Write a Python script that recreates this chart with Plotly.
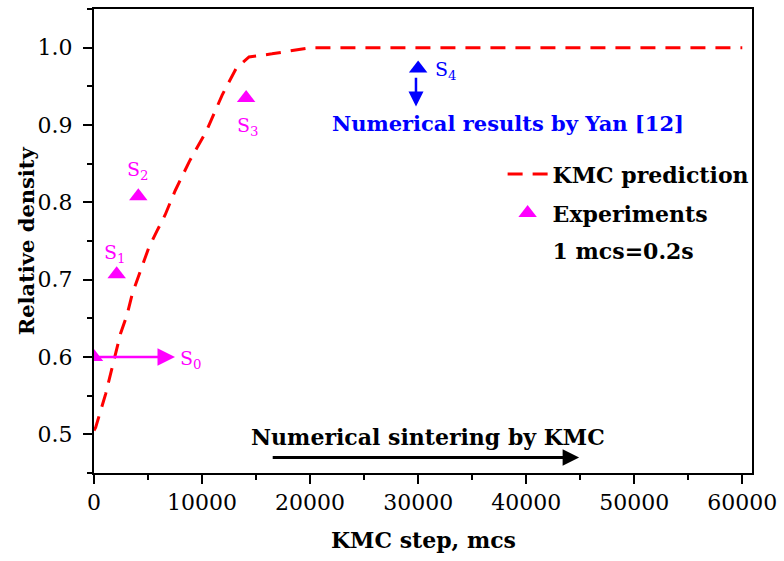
import plotly.graph_objects as go

# KMC prediction curve
kmc_x = [0, 155, 1075, 1840, 2450, 3070, 3530, 4290, 5060, 5830, 6590, 7510, 8830, 10400, 11870, 13150, 14350, 16470, 18680, 20000, 30000, 40000, 50000, 60000]
kmc_y = [0.505, 0.509, 0.552, 0.595, 0.630, 0.655, 0.681, 0.711, 0.741, 0.763, 0.784, 0.815, 0.853, 0.892, 0.939, 0.973, 0.988, 0.992, 0.997, 1.0, 1.0, 1.0, 1.0, 1.0]

# Experiments S0..S3
exp_x = [0, 2100, 4100, 14080]
exp_y = [0.600, 0.707, 0.808, 0.935]
exp_labels = ["S<sub>0</sub>", "S<sub>1</sub>", "S<sub>2</sub>", "S<sub>3</sub>"]

# Numerical results by Yan (S4)
yan_x = [30000]
yan_y = [0.973]
yan_labels = ["S<sub>4</sub>"]

xticks = [0, 10000, 20000, 30000, 40000, 50000, 60000]
yticks = [0.5, 0.6, 0.7, 0.8, 0.9, 1.0]

FONT = "DejaVu Serif"
FS = 22
MAG = "#FF00FF"
BLUE = "#0000FF"

fig = go.Figure()
fig.add_trace(go.Scatter(x=kmc_x, y=kmc_y, mode="lines", name="<b>KMC prediction</b>", legend="legend",
                         line=dict(color="#FF0000", width=3, dash="15px,10px")))
fig.add_trace(go.Scatter(x=exp_x, y=exp_y, mode="markers", name="<b>Experiments</b>", legend="legend2",
                         marker=dict(symbol="triangle-up", size=16, color=MAG)))
fig.add_trace(go.Scatter(x=yan_x, y=yan_y, mode="markers", showlegend=False,
                         marker=dict(symbol="triangle-up", size=16, color=BLUE)))
fig.add_trace(go.Scatter(x=[None], y=[None], mode="markers", name="<b>1 mcs=0.2s</b>", legend="legend3",
                         marker=dict(color="rgba(0,0,0,0)", size=1)))

ann = []
# experiment labels
lab_pos = [(7730, 0.597, "left", "middle"), (1930, 0.734, "center", "middle"),
           (4050, 0.841, "center", "middle"), (14260, 0.898, "center", "middle")]
for (lx, ly, xa, ya), t in zip(lab_pos, exp_labels):
    ann.append(dict(x=lx, y=ly, text=t, showarrow=False, xanchor=xa, yanchor=ya,
                    font=dict(family=FONT, size=19, color=MAG)))
ann.append(dict(x=31400, y=yan_y[0] - 0.003, text=yan_labels[0], showarrow=False, xanchor="left",
                yanchor="middle", font=dict(family=FONT, size=19, color=BLUE)))
# S0 arrow
ann.append(dict(x=7500, y=exp_y[0], ax=exp_x[0], ay=exp_y[0], axref="x", ayref="y",
                xref="x", yref="y", text="", showarrow=True, arrowhead=2, arrowsize=1.4,
                arrowwidth=2.5, arrowcolor=MAG))
# Yan arrow
ann.append(dict(x=29800, y=0.924, ax=29800, ay=0.963, axref="x", ayref="y",
                xref="x", yref="y", text="", showarrow=True, arrowhead=2, arrowsize=1.2,
                arrowwidth=2.5, arrowcolor=BLUE))
ann.append(dict(x=38300, y=0.902, text="<b>Numerical results by Yan [12]</b>", showarrow=False,
                xanchor="center", yanchor="middle", font=dict(family=FONT, size=21, color=BLUE)))
# sintering arrow
ann.append(dict(x=44900, y=0.47, ax=16400, ay=0.47, axref="x", ayref="y",
                xref="x", yref="y", text="", showarrow=True, arrowhead=2, arrowsize=1.1,
                arrowwidth=3, arrowcolor="black"))
ann.append(dict(x=30900, y=0.496, text="<b>Numerical sintering by KMC</b>", showarrow=False,
                xanchor="center", yanchor="middle", font=dict(family=FONT, size=FS, color="black")))
# axis titles
ann.append(dict(x=0.5, y=-0.145, xref="paper", yref="paper", text="<b>KMC step, mcs</b>",
                showarrow=False, xanchor="center", yanchor="middle",
                font=dict(family=FONT, size=FS, color="black")))
ann.append(dict(x=-0.103, y=0.5, xref="paper", yref="paper", text="<b>Relative density</b>",
                showarrow=False, xanchor="center", yanchor="middle", textangle=-90,
                font=dict(family=FONT, size=21, color="black")))

axis_common = dict(showline=True, linecolor="black", linewidth=2, mirror=True,
                   ticks="outside", ticklen=9, tickwidth=2, tickcolor="black",
                   showgrid=False, zeroline=False,
                   tickfont=dict(family=FONT, size=FS, color="black"))

leg_common = dict(xanchor="left", yanchor="middle", bgcolor="rgba(0,0,0,0)",
                  font=dict(family=FONT, size=FS, color="black"), itemwidth=40)

fig.update_layout(
    width=784, height=561,
    margin=dict(l=94, r=28, t=7, b=88),
    plot_bgcolor="white", paper_bgcolor="white",
    font=dict(family=FONT),
    xaxis=dict(range=[0, 60900], tickvals=xticks, ticktext=[str(v) for v in xticks],
               minor=dict(ticks="outside", ticklen=5, tickwidth=2, dtick=5000, tick0=0, tickcolor="black"),
               **axis_common),
    yaxis=dict(range=[0.45, 1.05], tickvals=yticks, ticktext=[f"{v:.1f}" for v in yticks],
               ticklabelstandoff=6,
               minor=dict(ticks="outside", ticklen=5, tickwidth=2, dtick=0.05, tick0=0.45, tickcolor="black"),
               **axis_common),
    legend=dict(x=0.621, y=0.644, **leg_common),
    legend2=dict(x=0.621, y=0.560, **leg_common),
    legend3=dict(x=0.621, y=0.479, **leg_common),
    annotations=ann,
    showlegend=True,
)

fig.write_html("out.html")
